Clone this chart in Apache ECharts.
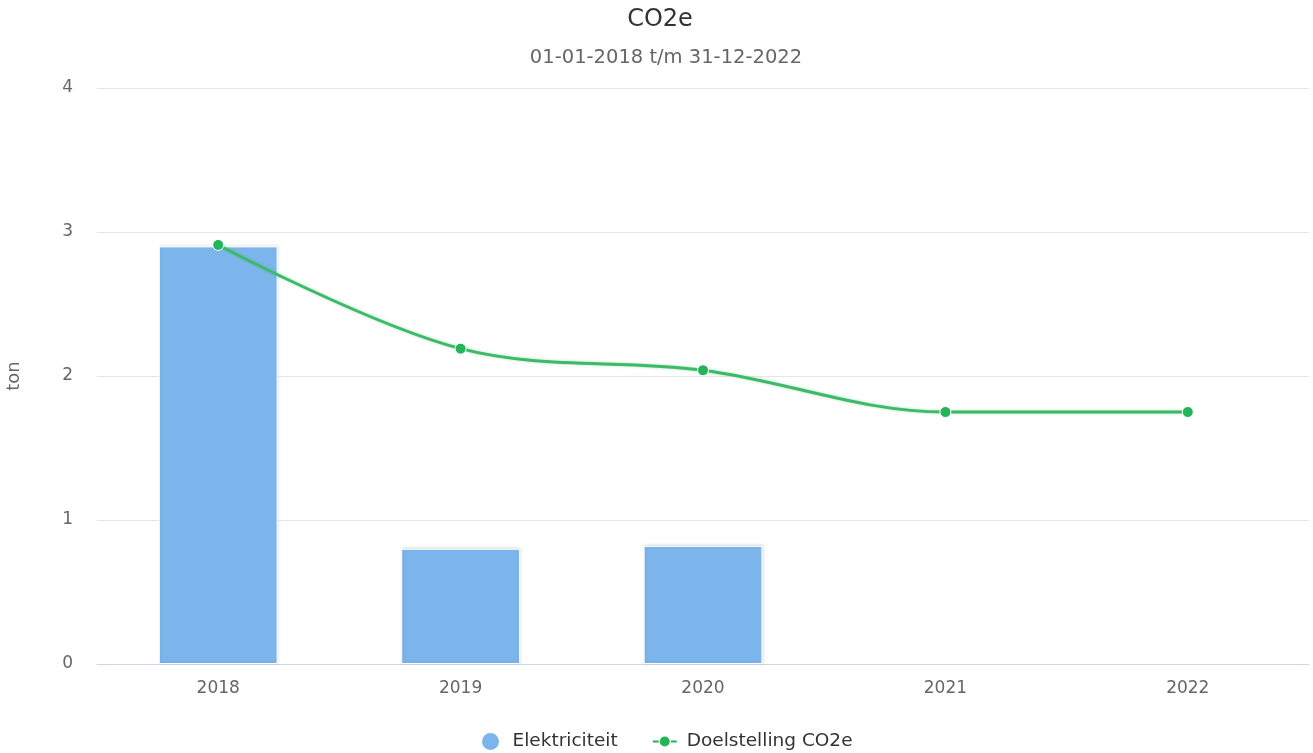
<!DOCTYPE html>
<html>
<head>
<meta charset="utf-8">
<script src="https://cdn.jsdelivr.net/npm/echarts@6/dist/echarts.min.js"></script>
<style>
html,body{margin:0;padding:0;background:#fff;}
#chart{width:1313px;height:753px;}
</style>
</head>
<body>
<div id="chart"></div>
<script>
const categories = ['2018', '2019', '2020', '2021', '2022'];
const elektriciteit = [2.90, 0.80, 0.82, null, null];
const doelstelling = [2.91, 2.19, 2.04, 1.75, 1.75];
const yTicks = [0, 1, 2, 3, 4];

const chart = echarts.init(document.getElementById('chart'));
const font = 'DejaVu Sans';
chart.setOption({
  animation: false,
  textStyle: { fontFamily: font },
  title: [
    {
      text: 'CO2e',
      left: 660,
      textAlign: 'center',
      top: 8,
      padding: 0,
      textStyle: { fontFamily: font, fontSize: 24, fontWeight: 'normal', color: '#333' }
    },
    {
      text: '01-01-2018 t/m 31-12-2022',
      left: 666,
      textAlign: 'center',
      top: 48,
      padding: 0,
      textStyle: { fontFamily: font, fontSize: 19.5, fontWeight: 'normal', color: '#666' }
    }
  ],
  legend: {
    top: 731,
    left: 480,
    padding: 0,
    itemGap: 35,
    itemWidth: 24,
    itemHeight: 19,
    textStyle: { fontFamily: font, fontSize: 18.5, color: '#333', padding: [0, 0, 0, 5] },
    data: [
      { name: 'Elektriciteit', icon: 'circle', itemStyle: { color: '#7cb5ec' } },
      { name: 'Doelstelling CO2e',
        icon: 'path://M0,4L6,4L6,6L0,6Z M18,4L24,4L24,6L18,6Z M7,5A5,5,0,1,1,17,5A5,5,0,1,1,7,5Z',
        itemStyle: { color: '#27b35a', borderWidth: 0 } }
    ]
  },
  grid: { left: 97, right: 4, top: 88, bottom: 89, containLabel: false, outerBoundsMode: 'none' },
  xAxis: {
    type: 'category',
    data: categories,
    axisTick: { show: false },
    axisLine: { lineStyle: { color: '#ccd6eb' } },
    axisLabel: { color: '#666', fontSize: 17, margin: 16, fontFamily: font }
  },
  yAxis: {
    type: 'value',
    min: yTicks[0],
    max: yTicks[yTicks.length - 1],
    interval: 1,
    name: 'ton',
    nameLocation: 'middle',
    nameGap: 74,
    nameTextStyle: { color: '#666', fontSize: 18, fontFamily: font },
    axisLabel: { color: '#666', fontSize: 17, margin: 24, fontFamily: font },
    splitLine: { lineStyle: { color: '#e6e6e6' } },
    axisLine: { show: false },
    axisTick: { show: false }
  },
  series: [
    {
      name: 'Elektriciteit',
      type: 'bar',
      data: elektriciteit,
      barWidth: '49%',
      itemStyle: { color: '#7cb5ec', borderColor: '#ffffff', borderWidth: 1,
        shadowColor: 'rgba(0,0,0,0.12)', shadowBlur: 3, shadowOffsetX: 1, shadowOffsetY: -1 }
    },
    {
      name: 'Doelstelling CO2e',
      type: 'line',
      data: doelstelling,
      smooth: 0.35,
      symbol: 'circle',
      symbolSize: 11,
      lineStyle: { color: '#3dba68', width: 3, shadowColor: 'rgba(45,179,92,0.4)', shadowBlur: 3 },
      itemStyle: { color: '#27b35a', borderColor: '#ffffff', borderWidth: 1 },
      z: 5
    }
  ]
});
</script>
</body>
</html>
